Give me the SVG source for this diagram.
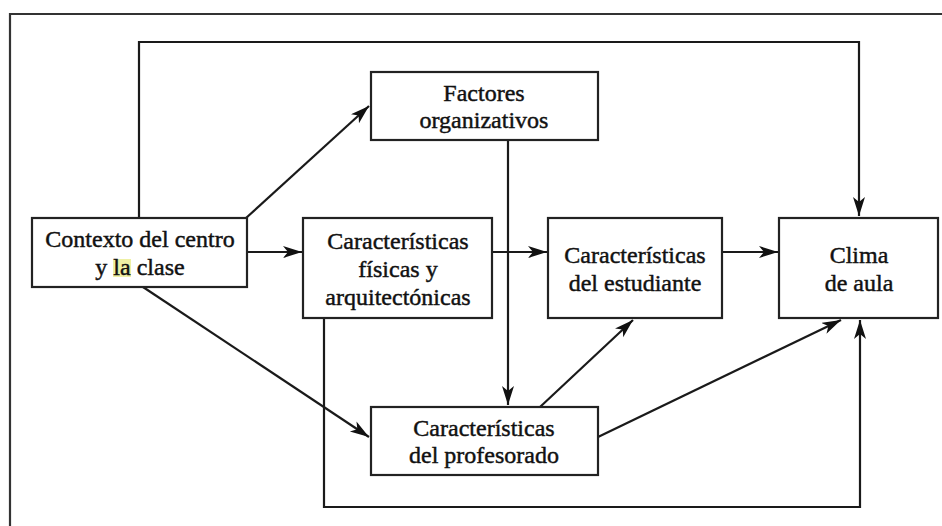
<svg xmlns="http://www.w3.org/2000/svg" width="942" height="526" viewBox="0 0 942 526">
<style>
.box{fill:#fff;stroke:#222;stroke-width:2.2}
.t{font-family:"Liberation Serif","Times New Roman",serif;font-size:24px;fill:#111;stroke:#111;stroke-width:0.45;text-anchor:middle}
.c{fill:none;stroke:#1a1a1a;stroke-width:2.2}
</style>
<defs>
<marker id="ah" markerUnits="userSpaceOnUse" markerWidth="22" markerHeight="14" refX="19" refY="6" orient="auto">
<path d="M0,0 L19,6 L0,12 L5,6 Z" fill="#111"/>
</marker>
</defs>
<rect width="942" height="526" fill="#fff"/>
<path d="M10,526 V14 H942" fill="none" stroke="#333" stroke-width="2.2"/>
<g id="connectors">
<path class="c" d="M139,218 V42 H859 V216" marker-end="url(#ah)"/>
<path class="c" d="M324,318 V507 H860 V320" marker-end="url(#ah)"/>
<path class="c" d="M246,218 L369,106" marker-end="url(#ah)"/>
<path class="c" d="M247,252 H302" marker-end="url(#ah)"/>
<path class="c" d="M492,252 H547" marker-end="url(#ah)"/>
<path class="c" d="M722,252 H778" marker-end="url(#ah)"/>
<path class="c" d="M508,140 V405" marker-end="url(#ah)"/>
<path class="c" d="M143,287 L369,437" marker-end="url(#ah)"/>
<path class="c" d="M540,407 L633,320" marker-end="url(#ah)"/>
<path class="c" d="M598,437 L841,320" marker-end="url(#ah)"/>
</g>
<g id="contexto">
<rect class="box" x="32" y="218" width="215" height="69"/>
<rect x="113" y="259" width="18" height="18" fill="#eef0a4"/>
<text class="t" x="140" y="247">Contexto del centro</text>
<text class="t" x="140" y="275">y la clase</text>
</g>
<g id="factores">
<rect class="box" x="371" y="72" width="227" height="68"/>
<text class="t" x="484" y="101">Factores</text>
<text class="t" x="484" y="128">organizativos</text>
</g>
<g id="fisicas">
<rect class="box" x="303" y="218" width="189" height="100"/>
<text class="t" x="398" y="249">Características</text>
<text class="t" x="398" y="277">físicas y</text>
<text class="t" x="398" y="305">arquitectónicas</text>
</g>
<g id="estudiante">
<rect class="box" x="548" y="218" width="174" height="100"/>
<text class="t" x="635" y="263">Características</text>
<text class="t" x="635" y="291">del estudiante</text>
</g>
<g id="clima">
<rect class="box" x="779" y="218" width="159" height="100"/>
<text class="t" x="859" y="263">Clima</text>
<text class="t" x="859" y="291">de aula</text>
</g>
<g id="profesorado">
<rect class="box" x="371" y="407" width="227" height="68"/>
<text class="t" x="484" y="436">Características</text>
<text class="t" x="484" y="463">del profesorado</text>
</g>
</svg>
